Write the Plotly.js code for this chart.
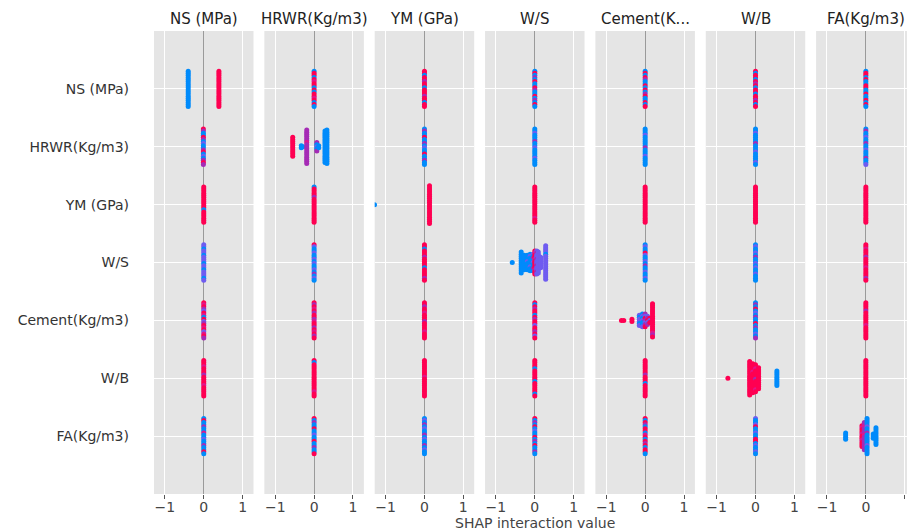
<!DOCTYPE html>
<html>
<head>
<meta charset="utf-8">
<script src="https://cdn.plot.ly/plotly-3.0.1.min.js"></script>
<style>html,body{margin:0;padding:0;background:#fff;}</style>
</head>
<body>
<div id="chart" style="width:907px;height:531px;"></div>
<script>
// ---- data ----
const features = ['NS (MPa)', 'HRWR(Kg/m3)', 'YM (GPa)', 'W/S', 'Cement(Kg/m3)', 'W/B', 'FA(Kg/m3)'];
const columnTitles = ['NS (MPa)', 'HRWR(Kg/m3)', 'YM (GPa)', 'W/S', 'Cement(K...', 'W/B', 'FA(Kg/m3)'];
const xTickValues = [-1, 0, 1];
const xTickLabels = ['\u22121', '0', '1'];
const xAxisTitle = 'SHAP interaction value';
// feature value codes: B=low (blue) ... R=high (red)
const codeValue = {B: 0, V: 0.25, P: 0.5, M: 0.75, R: 1};

// each cluster: [row feature index, SHAP interaction value, feature-value codes of stacked points (top to bottom)]
const colNS = [
  [0, -0.40, 'BBBBBBBBBBBBBBBBBB'],
  [0, 0.39, 'RRRRRRRRRRRRRRRRRR'],
  [1, -0.01, 'RPBBRPBVBBPRBVBPRP'],
  [2, 0.00, 'RRRRRRRRRRRBRRRRRR'],
  [3, 0.00, 'VVBVVBVVVBVVBVVVBV'],
  [4, 0.00, 'RMRPVRMBRVPRMRVMRP'],
  [5, 0.00, 'RRRMRRRPRRRRMRRRRR'],
  [6, 0.00, 'BRBBPBBMBBVBBPBBRB']
];
const colHRWR = [
  [0, 0.00, 'BRRBRMRRBRBRRMRBRB'],
  [1, -0.55, 'RRRRRRRRRR'],
  [1, -0.33, 'BB'],
  [1, -0.29, 'B'],
  [1, -0.19, 'PPPPPPMPPPPPPPPPP'],
  [1, 0.07, 'PBVBP'],
  [1, 0.12, 'BB'],
  [1, 0.28, 'BBBBBBBBBBBBBBBB'],
  [1, 0.33, 'BBBBBBBBBBBBBBBBB'],
  [2, 0.00, 'BRRRRPRRRRRRRRRRRR'],
  [3, 0.00, 'RVBBVBBVBVBBVBPBVB'],
  [4, 0.00, 'RPRMRPRRPMRRPRMRPR'],
  [5, 0.00, 'RBRRRRRRRRRRRRRMRR'],
  [6, 0.00, 'RBPBBRBBVBBRBBPBBR']
];
const colYM = [
  [0, 0.00, 'RRBRRPRRBRRRPRRBRR'],
  [1, 0.00, 'BPBBRBBPBVBBRBBPBB'],
  [2, -1.285, 'B'],
  [2, 0.13, 'RRRRRRRRRRRRRRRRRRR'],
  [3, 0.00, 'RRBRRRPRRRRBRRRRPR'],
  [4, 0.00, 'RRPRRMRRRPRRRRMRRR'],
  [5, 0.00, 'RRRRRRRRMRRRRRRRRR'],
  [6, 0.00, 'BVBPBVBBPBVBBPBVBB']
];
const colWS = [
  [0, 0.00, 'BRBPBRBBRPBBRBPBRB'],
  [1, 0.00, 'BBVBBBPBBVBBBBVBBB'],
  [2, 0.00, 'RRRRRRRRRRRRRRRMRR'],
  [3, -0.58, 'B'],
  [3, -0.35, 'BBBBBBBBBBB'],
  [3, -0.27, 'BBBBBBBB'],
  [3, -0.19, 'BBBVBBBB'],
  [3, -0.12, 'BVBBBBVBB'],
  [3, -0.04, 'VBPBVBBPB'],
  [3, 0.00, 'RMRRMRRRRMRR'],
  [3, 0.05, 'VPVVPVVPVVPV'],
  [3, 0.09, 'VVVVVVVVVVV'],
  [3, 0.15, 'VVVVVV'],
  [3, 0.28, 'VVVVBVVVVVVVVVVVV'],
  [4, 0.00, 'RBRPRRBRPRRVRRPRVR'],
  [5, 0.00, 'RRRRBRRRRRBRRRRRBR'],
  [6, 0.00, 'RBPBRBVBBRBPBRBBPB']
];
const colCement = [
  [0, 0.00, 'BRBRPBBRBRBPRBBRBR'],
  [1, 0.00, 'BBBVBBBBBPBBBVBBBB'],
  [2, 0.00, 'RRRRRRRRRRRRRRRRRR'],
  [3, 0.00, 'BVBBRVBBVBPBBVBBVB'],
  [4, -0.61, 'R'],
  [4, -0.55, 'R'],
  [4, -0.34, 'RR'],
  [4, -0.15, 'VBVVBV'],
  [4, -0.07, 'BVBVBBV'],
  [4, 0.00, 'PVRPVPR'],
  [4, 0.06, 'VPRVP'],
  [4, 0.12, 'RVR'],
  [4, 0.19, 'RRRRRRRRRRRRRRMPR'],
  [5, 0.00, 'RRRRRRRPRRRBRRRRRR'],
  [6, 0.00, 'RBRPBRRBMRBRPRBRRB']
];
const colWB = [
  [0, 0.00, 'RBRRBRPRBRRBRRPRBR'],
  [1, 0.00, 'BBVBBBBPBBBVBBBBVB'],
  [2, 0.00, 'RRRRRRRRRRRRRRRRRR'],
  [3, 0.00, 'BVBBVBPBBVBVBBVBBB'],
  [4, 0.00, 'BPBRBVBPBBRBPBBVBP'],
  [5, -0.71, 'R'],
  [5, -0.15, 'RRRRRRRRRRRRRRRRR'],
  [5, -0.07, 'RRRRMRRRRRRRRRR'],
  [5, 0.00, 'RRMRRRRPRRRRMR'],
  [5, 0.08, 'RRRRRRRRRRR'],
  [5, 0.55, 'BBBBBBBB'],
  [6, 0.00, 'VBBVRBBVBBRRBVBBVB']
];
const colFA = [
  [0, 0.00, 'BRRBRBBRRBBRBBRBRB'],
  [1, 0.00, 'BPBBVBBPBBVBBBPBBV'],
  [2, 0.00, 'RRRRRRRRRRRRRRRRRR'],
  [3, 0.00, 'RRMRRRPRRRRMRRRRPR'],
  [4, 0.00, 'RRRRPRRRRRRMRRRRRR'],
  [5, 0.00, 'RRRRRRRRRRRRRRRRRR'],
  [6, -0.52, 'BBBB'],
  [6, -0.10, 'RMRRMRRMRRR'],
  [6, -0.04, 'PPMPPPMPPPPPPP'],
  [6, 0.03, 'BBBBVBBPBBBBBVBBBB'],
  [6, 0.19, 'BBB'],
  [6, 0.26, 'BBBBBBBBB']
];
const columns = [colNS, colHRWR, colYM, colWS, colCement, colWB, colFA];

// ---- layout constants (pixels) ----
const W = 907, H = 531;
const panelLeft0 = 154, panelPitch = 110.35, panelWidth = 99.5;
const plotTop = 31, plotBottom = 494;
const xHalf = 1.28;
const pxPerUnit = panelWidth / (2 * xHalf);
const stackStep = 0.036; // vertical spacing of stacked (beeswarm) points, in row units

const colorscale = [[0, '#008bfb'], [0.25, '#6f5cf0'], [0.5, '#a52bb5'], [0.75, '#e0168c'], [1, '#ff0052']];
const nRows = features.length;

const traces = [];
const layout = {
  width: W, height: H, autosize: false,
  margin: {l: 0, r: 0, t: 0, b: 0, pad: 0},
  paper_bgcolor: '#ffffff',
  plot_bgcolor: '#e5e5e5',
  showlegend: false,
  font: {family: 'DejaVu Sans, sans-serif', size: 14, color: '#333'},
  annotations: []
};

const yDomain = [(H - plotBottom) / H, (H - plotTop) / H];

columns.forEach((clusters, c) => {
  const xs = [], ys = [], cs = [];
  clusters.forEach(([row, shap, codes]) => {
    const n = codes.length;
    const base = (nRows - 1) - row;
    for (let i = 0; i < n; i++) {
      xs.push(shap);
      ys.push(base + ((n - 1) / 2 - i) * stackStep);
      cs.push(codeValue[codes[i]]);
    }
  });
  const xa = c === 0 ? 'x' : 'x' + (c + 1);
  const ya = c === 0 ? 'y' : 'y' + (c + 1);
  traces.push({
    type: 'scatter', mode: 'markers', x: xs, y: ys,
    xaxis: xa, yaxis: ya, hoverinfo: 'skip', cliponaxis: true,
    marker: {size: 5, color: cs, colorscale: colorscale, cmin: 0, cmax: 1, line: {width: 0}, opacity: 1}
  });

  const left = panelLeft0 + c * panelPitch;
  const right = Math.min(left + panelWidth, W);
  const xmax = -xHalf + (right - left) / pxPerUnit;
  const xName = c === 0 ? 'xaxis' : 'xaxis' + (c + 1);
  const yName = c === 0 ? 'yaxis' : 'yaxis' + (c + 1);
  layout[xName] = {
    domain: [left / W, right / W],
    anchor: ya,
    range: [-xHalf, xmax],
    tickvals: xTickValues, ticktext: xTickLabels,
    ticks: 'outside', ticklen: 4, tickwidth: 1, tickcolor: '#555',
    ticklabelstandoff: -4,
    tickfont: {family: 'DejaVu Sans, sans-serif', size: 14, color: '#444'},
    showgrid: true, gridcolor: '#ffffff', gridwidth: 1,
    zeroline: true, zerolinecolor: '#9a9a9a', zerolinewidth: 1,
    showline: false, fixedrange: true
  };
  layout[yName] = {
    domain: yDomain,
    anchor: xa,
    range: [-1, nRows],
    tickvals: features.map((f, i) => nRows - 1 - i),
    ticktext: features,
    showticklabels: c === 0,
    ticks: '', ticklabelstandoff: 24,
    tickfont: {family: 'DejaVu Sans, sans-serif', size: 14, color: '#333'},
    showgrid: true, gridcolor: '#ffffff', gridwidth: 1,
    zeroline: false, showline: false, fixedrange: true
  };
  layout.annotations.push({
    xref: xa, yref: 'paper', x: 0, y: 1 - 19 / H,
    xanchor: 'center', yanchor: 'middle', showarrow: false,
    text: columnTitles[c],
    font: {family: 'DejaVu Sans, sans-serif', size: 15, color: '#222'}
  });
});

layout.annotations.push({
  xref: 'x4', yref: 'paper', x: 0, y: 1 - 523 / H,
  xanchor: 'center', yanchor: 'middle', showarrow: false,
  text: xAxisTitle,
  font: {family: 'DejaVu Sans, sans-serif', size: 14, color: '#444'}
});

Plotly.newPlot('chart', traces, layout, {displayModeBar: false, staticPlot: true});
</script>
</body>
</html>
